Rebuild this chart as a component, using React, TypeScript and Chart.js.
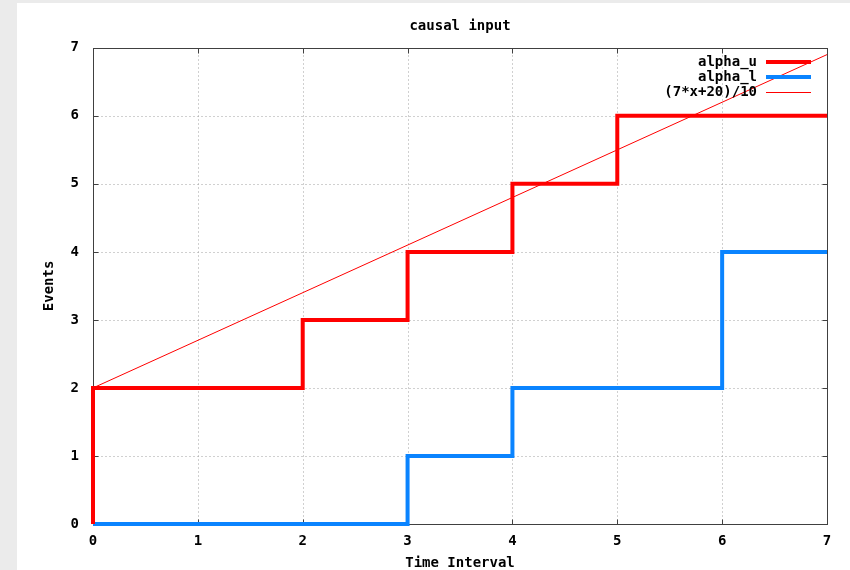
import React, { useEffect, useRef } from "react";
import { Chart, registerables } from "chart.js";

Chart.register(...registerables);

const TITLE = "causal input";
const X_TITLE = "Time Interval";
const Y_TITLE = "Events";
const X_TICKS = [0, 1, 2, 3, 4, 5, 6, 7];
const Y_TICKS = [0, 1, 2, 3, 4, 5, 6, 7];

const ALPHA_U_LABEL = "alpha_u";
const ALPHA_U_X = [0, 0, 2, 2, 3, 3, 4, 4, 5, 5, 7];
const ALPHA_U_Y = [0, 2, 2, 3, 3, 4, 4, 5, 5, 6, 6];

const ALPHA_L_LABEL = "alpha_l";
const ALPHA_L_X = [0, 3, 3, 4, 4, 6, 6, 7];
const ALPHA_L_Y = [0, 0, 1, 1, 2, 2, 4, 4];

const BOUND_LABEL = "(7*x+20)/10";
const BOUND_X = [0, 7];
const BOUND_Y = [2, 6.9];

const FONT = "'DejaVu Sans Mono', monospace";

const toPts = (xs: number[], ys: number[]) => xs.map((x, i) => ({ x, y: ys[i] }));

const bgPlugin = {
  id: "bgPlugin",
  beforeDraw(chart: any) {
    const { ctx, width, height } = chart;
    ctx.save();
    ctx.fillStyle = "#ebebeb";
    ctx.fillRect(0, 0, width, height);
    ctx.fillStyle = "#ffffff";
    ctx.fillRect(17, 3, width - 17, height - 3);
    ctx.restore();
  },
};

const framePlugin = {
  id: "framePlugin",
  beforeDatasetsDraw(chart: any) {
    const { ctx, chartArea } = chart;
    const xs = chart.scales.x;
    const ys = chart.scales.y;
    const L = Math.round(chartArea.left) + 0.5;
    const R = Math.round(chartArea.right) + 0.5;
    const T = Math.round(chartArea.top) + 0.5;
    const B = Math.round(chartArea.bottom) + 0.5;
    ctx.save();
    ctx.strokeStyle = "#a0a0a0";
    ctx.lineWidth = 1;
    ctx.setLineDash([1, 3]);
    X_TICKS.forEach((v, i) => {
      if (i === 0 || i === X_TICKS.length - 1) return;
      const px = Math.round(xs.getPixelForValue(v)) + 0.5;
      ctx.beginPath();
      ctx.moveTo(px, B);
      ctx.lineTo(px, T);
      ctx.stroke();
    });
    Y_TICKS.forEach((v, i) => {
      if (i === 0 || i === Y_TICKS.length - 1) return;
      const py = Math.round(ys.getPixelForValue(v)) + 0.5;
      ctx.beginPath();
      ctx.moveTo(L, py);
      ctx.lineTo(R, py);
      ctx.stroke();
    });
    ctx.setLineDash([]);
    ctx.strokeStyle = "#404040";
    ctx.strokeRect(L, T, R - L, B - T);
    const tl = 5;
    ctx.beginPath();
    X_TICKS.forEach((v) => {
      const px = Math.round(xs.getPixelForValue(v)) + 0.5;
      ctx.moveTo(px, B);
      ctx.lineTo(px, B - tl);
      ctx.moveTo(px, T);
      ctx.lineTo(px, T + tl);
    });
    Y_TICKS.forEach((v) => {
      const py = Math.round(ys.getPixelForValue(v)) + 0.5;
      ctx.moveTo(L, py);
      ctx.lineTo(L + tl, py);
      ctx.moveTo(R, py);
      ctx.lineTo(R - tl, py);
    });
    ctx.stroke();
    ctx.restore();
  },
};

const keyPlugin = {
  id: "keyPlugin",
  afterDatasetsDraw(chart: any) {
    const { ctx, chartArea } = chart;
    const textRight = chartArea.right - 70;
    const sampleL = chartArea.right - 61;
    const sampleR = chartArea.right - 16;
    ctx.save();
    ctx.font = `bold 14px ${FONT}`;
    ctx.textAlign = "right";
    ctx.textBaseline = "middle";
    ctx.fillStyle = "#000";
    chart.data.datasets.forEach((ds: any, i: number) => {
      const y = Math.round(chartArea.top + 14 + i * 15);
      ctx.fillText(ds.label, textRight, y);
      ctx.strokeStyle = ds.borderColor;
      ctx.lineWidth = ds.borderWidth;
      ctx.beginPath();
      ctx.moveTo(sampleL, y + (ds.borderWidth % 2 ? 0.5 : 0));
      ctx.lineTo(sampleR, y + (ds.borderWidth % 2 ? 0.5 : 0));
      ctx.stroke();
    });
    ctx.restore();
  },
};

export default function App() {
  const ref = useRef<HTMLCanvasElement | null>(null);
  useEffect(() => {
    if (!ref.current) return;
    const chart = new Chart(ref.current, {
      type: "scatter",
      data: {
        datasets: [
          {
            label: ALPHA_U_LABEL,
            data: toPts(ALPHA_U_X, ALPHA_U_Y),
            showLine: true,
            borderColor: "#ff0000",
            borderWidth: 4,
            pointRadius: 0,
            borderJoinStyle: "miter",
            clip: false,
          },
          {
            label: ALPHA_L_LABEL,
            data: toPts(ALPHA_L_X, ALPHA_L_Y),
            showLine: true,
            borderColor: "#0a84ff",
            borderWidth: 4,
            pointRadius: 0,
            borderJoinStyle: "miter",
            clip: false,
          },
          {
            label: BOUND_LABEL,
            data: toPts(BOUND_X, BOUND_Y),
            showLine: true,
            borderColor: "#ff0000",
            borderWidth: 1,
            pointRadius: 0,
            clip: false,
          },
        ] as any,
      },
      options: {
        animation: false,
        responsive: false,
        maintainAspectRatio: false,
        layout: { padding: { left: 35, right: 23, top: 0, bottom: 0 } },
        plugins: {
          legend: { display: false },
          tooltip: { enabled: false },
          title: {
            display: true,
            text: TITLE,
            fullSize: false,
            color: "#000",
            font: { family: FONT, size: 14, weight: "bold" },
            padding: { top: 18, bottom: 13 },
          },
        },
        scales: {
          x: {
            type: "linear",
            min: 0,
            max: 7,
            afterBuildTicks: (s: any) => {
              s.ticks = X_TICKS.map((v) => ({ value: v }));
            },
            afterFit: (s: any) => {
              s.height = 46;
            },
            grid: { display: false, drawTicks: false },
            border: { display: false },
            ticks: {
              color: "#000",
              font: { family: FONT, size: 14, weight: "bold" },
              padding: 9,
              maxRotation: 0,
              autoSkip: false,
            },
            title: {
              display: true,
              text: X_TITLE,
              color: "#000",
              font: { family: FONT, size: 14, weight: "bold" },
              padding: { top: 0, bottom: -2 },
            },
          },
          y: {
            type: "linear",
            min: 0,
            max: 7,
            afterBuildTicks: (s: any) => {
              s.ticks = Y_TICKS.map((v) => ({ value: v }));
            },
            afterFit: (s: any) => {
              s.width = 58;
            },
            grid: { display: false, drawTicks: false },
            border: { display: false },
            ticks: {
              color: "#000",
              font: { family: FONT, size: 14, weight: "bold" },
              padding: 14,
              autoSkip: false,
            },
            title: {
              display: true,
              text: Y_TITLE,
              color: "#000",
              font: { family: FONT, size: 14, weight: "bold" },
              padding: { top: 6, bottom: 0 },
            },
          },
        },
      },
      plugins: [bgPlugin, framePlugin, keyPlugin],
    });
    return () => chart.destroy();
  }, []);
  return (
    <div style={{ position: "absolute", left: 0, top: 0, width: 850, height: 570 }}>
      <canvas ref={ref} width={850} height={570} style={{ display: "block", width: 850, height: 570 }} />
    </div>
  );
}
